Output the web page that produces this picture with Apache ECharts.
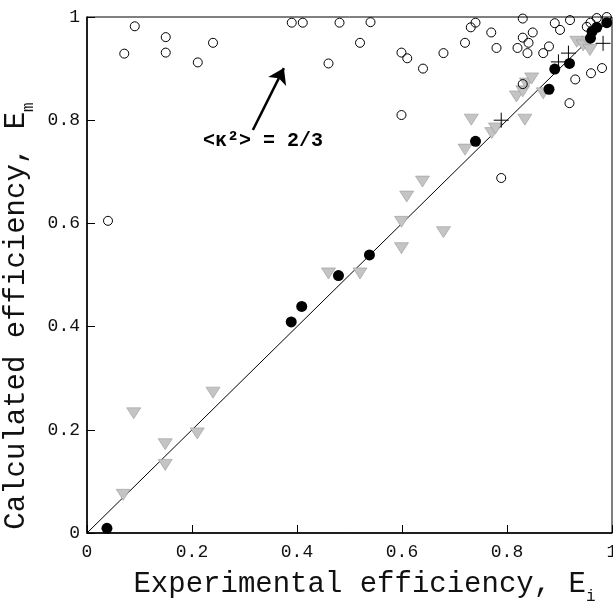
<!DOCTYPE html>
<html>
<head>
<meta charset="utf-8">
<script src="https://cdn.jsdelivr.net/npm/echarts@6/dist/echarts.min.js"></script>
<style>
  html, body { margin: 0; padding: 0; background: #fff; }
  #chart { width: 613px; height: 610px; }
</style>
</head>
<body>
<div id="chart"></div>
<script>
// 开放圆点 <κ²> = 2/3 计算值
const openCircles = [
  [0.040, 0.605],
  [0.071, 0.929], [0.091, 0.982], [0.150, 0.961], [0.150, 0.931], [0.211, 0.912], [0.240, 0.950],
  [0.390, 0.989], [0.411, 0.989], [0.460, 0.910], [0.481, 0.989],
  [0.520, 0.950], [0.540, 0.990], [0.599, 0.931], [0.610, 0.920], [0.599, 0.810], [0.640, 0.900],
  [0.679, 0.930], [0.720, 0.950], [0.731, 0.980], [0.740, 0.989], [0.770, 0.970], [0.780, 0.940],
  [0.789, 0.688], [0.820, 0.940], [0.830, 0.997], [0.830, 0.960], [0.841, 0.950], [0.849, 0.970],
  [0.839, 0.930], [0.830, 0.870], [0.869, 0.930], [0.880, 0.943], [0.891, 0.988], [0.901, 0.975],
  [0.920, 0.994], [0.919, 0.833], [0.930, 0.879], [0.960, 0.891], [0.981, 0.901],
  [0.952, 0.981], [0.959, 0.989], [0.971, 0.998], [0.990, 1.000]
]
// 实心圆点
const filledCircles = [
  [0.038, 0.009], [0.389, 0.409], [0.409, 0.439], [0.479, 0.499], [0.538, 0.539],
  [0.740, 0.759], [0.880, 0.860], [0.891, 0.899], [0.919, 0.910], [0.959, 0.959],
  [0.962, 0.972], [0.971, 0.980], [0.990, 0.989]
]
// 灰色倒三角
const triangles = [
  [0.069, 0.074], [0.089, 0.232], [0.149, 0.172], [0.149, 0.132], [0.210, 0.193], [0.240, 0.272],
  [0.460, 0.503], [0.520, 0.503], [0.599, 0.552], [0.599, 0.603], [0.609, 0.652], [0.639, 0.681],
  [0.679, 0.583], [0.720, 0.743], [0.732, 0.801], [0.771, 0.775], [0.778, 0.784], [0.834, 0.801],
  [0.818, 0.846], [0.830, 0.856], [0.837, 0.871], [0.847, 0.881], [0.869, 0.852],
  [0.933, 0.952], [0.945, 0.945], [0.955, 0.952], [0.958, 0.936]
]
// 十字
const crosses = [
  [0.789, 0.800], [0.898, 0.913], [0.917, 0.930], [0.983, 0.949]
]
// 对角线 y = x
const diagonal = [[0, 0], [1, 1]]
// 箭头（数据坐标）
const arrowFrom = [0.316, 0.781]
const arrowTo = [0.375, 0.901]

const monoFont = 'Liberation Mono'

const chartInstance = echarts.init(document.getElementById('chart'))
const option = {
  animation: false,
  backgroundColor: '#fff',
  grid: {
    left: 87,
    right: 1,
    top: 17,
    bottom: 77,
    containLabel: false,
    outerBoundsMode: 'none',
    show: true,
    borderColor: '#000',
    borderWidth: 1
  },
  xAxis: {
    type: 'value',
    min: 0,
    max: 1,
    interval: 0.2,
    name: 'Experimental efficiency, E{sub|i}',
    nameLocation: 'middle',
    nameGap: 30,
    nameTextStyle: {
      fontFamily: monoFont,
      fontSize: 29,
      color: '#111',
      padding: [0, 0, 0, 30],
      rich: {
        sub: { fontFamily: monoFont, fontSize: 16, color: '#111', verticalAlign: 'bottom', lineHeight: 42 }
      }
    },
    axisLine: { lineStyle: { color: '#000', width: 1.5 } },
    axisTick: { inside: true, length: 8, lineStyle: { color: '#000' } },
    axisLabel: { fontFamily: monoFont, fontSize: 18, color: '#111', margin: 10 },
    splitLine: { show: false }
  },
  yAxis: {
    type: 'value',
    min: 0,
    max: 1,
    interval: 0.2,
    name: 'Calculated efficiency, E{sub|m}',
    nameLocation: 'middle',
    nameGap: 26,
    nameTextStyle: {
      fontFamily: monoFont,
      fontSize: 29,
      color: '#111',
      padding: [0, 82, 0, 0],
      rich: {
        sub: { fontFamily: monoFont, fontSize: 16, color: '#111', verticalAlign: 'bottom', lineHeight: 40 }
      }
    },
    axisLine: { lineStyle: { color: '#000', width: 1.5 } },
    axisTick: { inside: true, length: 8, lineStyle: { color: '#000' } },
    axisLabel: { fontFamily: monoFont, fontSize: 18, color: '#111', margin: 7 },
    splitLine: { show: false }
  },
  series: [
    {
      type: 'line',
      data: diagonal,
      symbol: 'none',
      lineStyle: { color: '#000', width: 1 },
      z: 1,
      markLine: {
        silent: true,
        symbol: ['none', 'arrow'],
        symbolSize: 15,
        lineStyle: { color: '#000', width: 2.5, type: 'solid' },
        label: { show: false },
        data: [[{ coord: arrowFrom }, { coord: arrowTo }]]
      }
    },
    {
      type: 'scatter',
      data: triangles,
      symbol: 'path://M0,0L14,0L7,12Z',
      symbolSize: [14, 11],
      itemStyle: { color: '#c4c4c4', borderColor: '#9a9a9a', borderWidth: 0.6, opacity: 1 },
      z: 2
    },
    {
      type: 'scatter',
      data: openCircles,
      symbol: 'circle',
      symbolSize: 9,
      itemStyle: { color: 'rgba(255,255,255,0)', borderColor: '#000', borderWidth: 1, opacity: 1 },
      z: 3
    },
    {
      type: 'scatter',
      data: filledCircles,
      symbol: 'circle',
      symbolSize: 11,
      itemStyle: { color: '#000', opacity: 1 },
      z: 4
    },
    {
      type: 'scatter',
      data: crosses,
      symbol: 'path://M6,0L6,12M0,6L12,6',
      symbolSize: 15,
      itemStyle: { color: 'none', borderColor: '#000', borderWidth: 1, opacity: 1 },
      z: 5
    }
  ],
  graphic: [
    {
      type: 'text',
      left: 203,
      top: 131,
      style: {
        text: '<κ²> = 2/3',
        fontFamily: monoFont,
        fontWeight: 'bold',
        fontSize: 20,
        fill: '#000'
      }
    }
  ]
}
chartInstance.setOption(option)
</script>
</body>
</html>
